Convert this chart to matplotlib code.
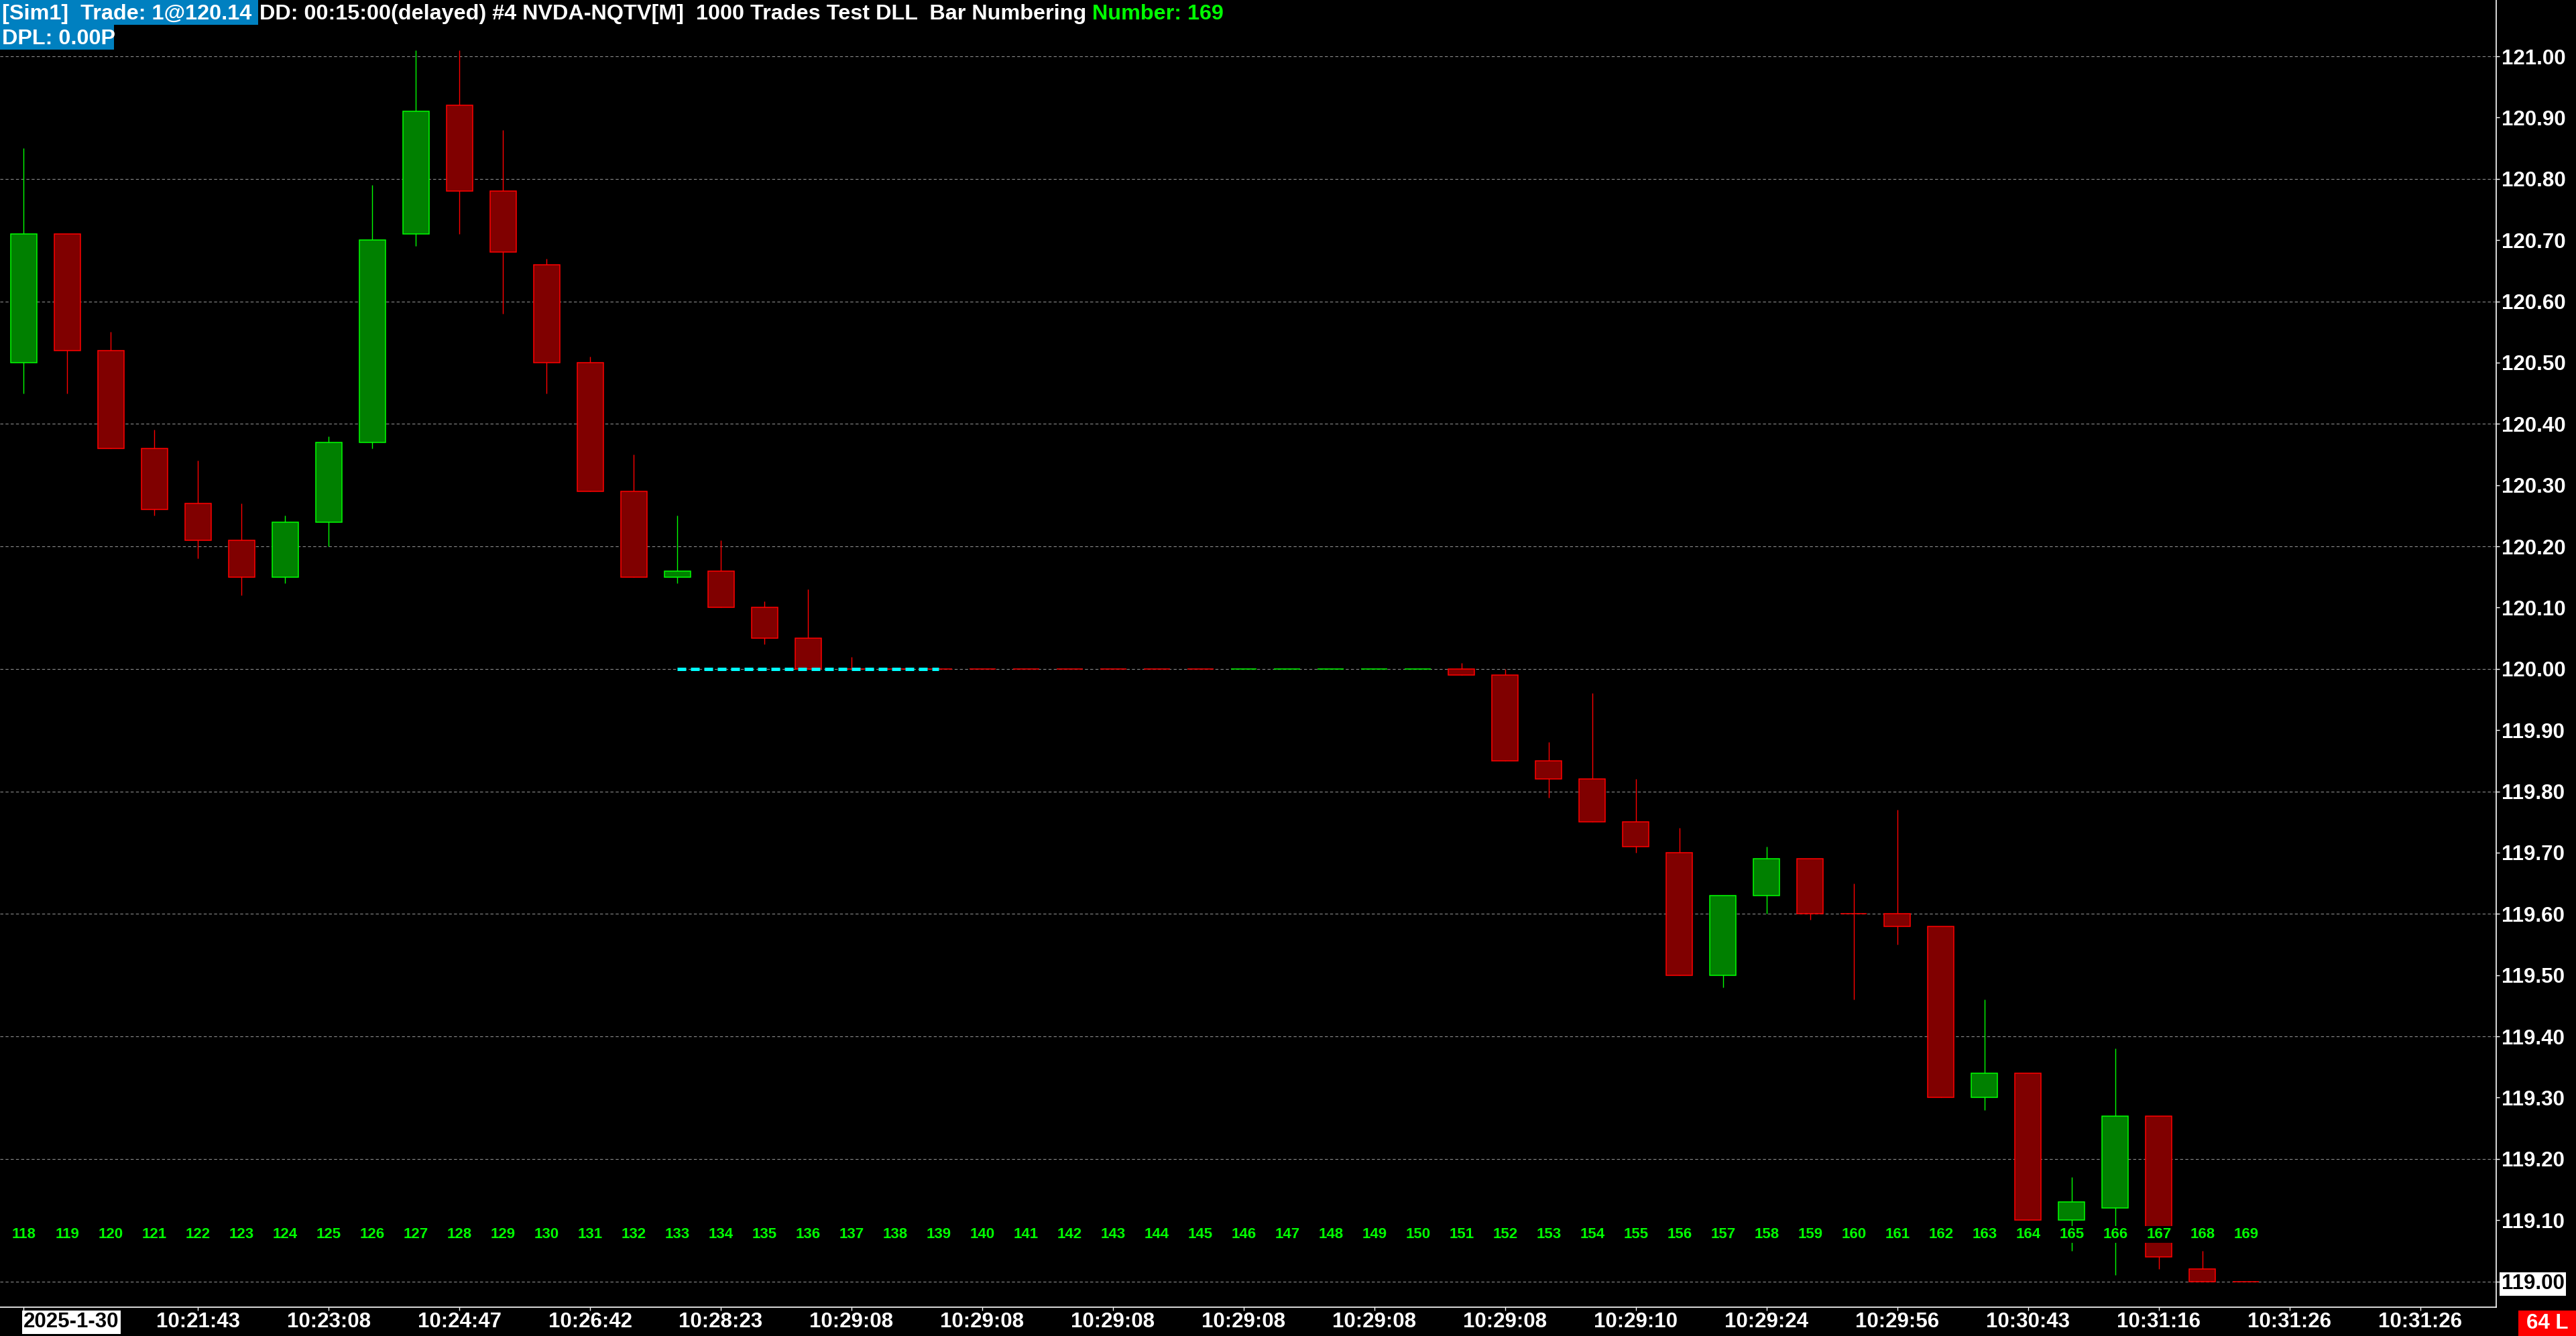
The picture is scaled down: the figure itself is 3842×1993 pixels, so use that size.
import matplotlib
matplotlib.use('Agg')
import matplotlib.pyplot as plt
from matplotlib.patches import Rectangle

plt.rcParams['font.family'] = ['Liberation Sans', 'DejaVu Sans']
plt.rcParams['font.weight'] = 'bold'

W, H, DPI = 3842, 1993, 100

# bar data, bars 118..169, ten bars per row
opens = [120.50, 120.71, 120.52, 120.36, 120.27, 120.21, 120.15, 120.24, 120.37, 120.71,
         120.92, 120.78, 120.66, 120.50, 120.29, 120.15, 120.16, 120.10, 120.05, 120.00,
         120.00, 120.00, 120.00, 120.00, 120.00, 120.00, 120.00, 120.00, 120.00, 120.00,
         120.00, 120.00, 120.00, 120.00, 119.99, 119.85, 119.82, 119.75, 119.70, 119.50,
         119.63, 119.69, 119.60, 119.60, 119.58, 119.30, 119.34, 119.10, 119.12, 119.27,
         119.02, 119.00]
highs = [120.85, 120.71, 120.55, 120.39, 120.34, 120.27, 120.25, 120.38, 120.79, 121.01,
         121.01, 120.88, 120.67, 120.51, 120.35, 120.25, 120.21, 120.11, 120.13, 120.02,
         120.00, 120.00, 120.00, 120.00, 120.00, 120.00, 120.00, 120.00, 120.00, 120.00,
         120.00, 120.00, 120.00, 120.01, 120.00, 119.88, 119.96, 119.82, 119.74, 119.63,
         119.71, 119.69, 119.65, 119.77, 119.58, 119.46, 119.34, 119.17, 119.38, 119.27,
         119.05, 119.00]
lows = [120.45, 120.45, 120.36, 120.25, 120.18, 120.12, 120.14, 120.20, 120.36, 120.69,
        120.71, 120.58, 120.45, 120.29, 120.15, 120.14, 120.10, 120.04, 120.00, 120.00,
        120.00, 120.00, 120.00, 120.00, 120.00, 120.00, 120.00, 120.00, 120.00, 120.00,
        120.00, 120.00, 120.00, 119.99, 119.85, 119.79, 119.75, 119.70, 119.50, 119.48,
        119.60, 119.59, 119.46, 119.55, 119.30, 119.28, 119.10, 119.05, 119.01, 119.02,
        119.00, 119.00]
closes = [120.71, 120.52, 120.36, 120.26, 120.21, 120.15, 120.24, 120.37, 120.70, 120.91,
          120.78, 120.68, 120.50, 120.29, 120.15, 120.16, 120.10, 120.05, 120.00, 120.00,
          120.00, 120.00, 120.00, 120.00, 120.00, 120.00, 120.00, 120.00, 120.00, 120.00,
          120.00, 120.00, 120.00, 119.99, 119.85, 119.82, 119.75, 119.71, 119.50, 119.63,
          119.69, 119.60, 119.60, 119.58, 119.30, 119.34, 119.10, 119.13, 119.27, 119.04,
          119.00, 119.00]
doji_up = [146, 147, 148, 149, 150]
bar_num = list(range(118, 118 + len(opens)))

time_ticks = [118, 122, 125, 128, 131, 134, 137, 140, 143, 146, 149, 152,
              155, 158, 161, 164, 167, 170, 173]
time_labels = ['2025-1-30', '10:21:43', '10:23:08', '10:24:47', '10:26:42', '10:28:23',
               '10:29:08', '10:29:08', '10:29:08', '10:29:08', '10:29:08', '10:29:08',
               '10:29:10', '10:29:24', '10:29:56', '10:30:43', '10:31:16', '10:31:26',
               '10:31:26']

price_ticks = [119.0, 119.1, 119.2, 119.3, 119.4, 119.5, 119.6, 119.7, 119.8, 119.9,
               120.0, 120.1, 120.2, 120.3, 120.4, 120.5, 120.6, 120.7, 120.8, 120.9, 121.0]
grid_prices = [119.0, 119.2, 119.4, 119.6, 119.8, 120.0, 120.2, 120.4, 120.6, 120.8, 121.0]
last_price = 119.00

trade_level = 120.00
trade_from, trade_to = 133, 139

UP_BODY, UP_EDGE = '#008000', '#00ff00'
DN_BODY, DN_EDGE = '#800000', '#ff0000'


def fx(px):
    return px / W


def fy(py):
    return 1 - py / H


fig = plt.figure(figsize=(W / DPI, H / DPI), dpi=DPI, facecolor='black')
ax = fig.add_axes([0, fy(1950), fx(3723), 1950 / H], facecolor='black')

ax.set_xlim(117.46, 174.74)
ax.set_ylim(118.958, 121.092)

for g in grid_prices:
    ax.axhline(g, color='#8c8c8c', lw=0.8, linestyle=(0, (4, 3)), zorder=1)

# candles
for n, o, h, l, c in zip(bar_num, opens, highs, lows, closes):
    up = c > o or (c == o and n in doji_up)
    body, edge = (UP_BODY, UP_EDGE) if up else (DN_BODY, DN_EDGE)
    ax.vlines(n, l, h, colors=edge, lw=1.0, zorder=2)
    ax.bar(n, abs(c - o), bottom=min(o, c), width=0.6, color=body,
           edgecolor=edge, linewidth=1.1, zorder=3)

ax.hlines(trade_level, trade_from, trade_to, colors='#00ffff', lw=3.6,
          linestyles=(0, (2.6, 1.4)), zorder=4)

for n in bar_num:
    ax.text(n, 119.077, str(n), ha='center', va='center', color='#00ff00',
            fontsize=16, fontweight='bold', zorder=5,
            bbox=dict(boxstyle='square,pad=0.1', fc='black', ec='none'))

for side in ['top', 'left']:
    ax.spines[side].set_visible(False)
for side in ['right', 'bottom']:
    ax.spines[side].set_color('white')
    ax.spines[side].set_linewidth(1.2)

ax.set_xticks(time_ticks, time_labels)
ax.yaxis.tick_right()
ax.set_yticks(price_ticks, ['%.2f' % p for p in price_ticks])
ax.tick_params(axis='x', colors='white', length=3.6, width=1, pad=1.5, labelsize=22.5)
ax.tick_params(axis='y', colors='white', length=3.6, width=1, pad=2, labelsize=22.5)

first = ax.get_xticklabels()[0]
first.set_horizontalalignment('left')
first.set_color('black')
first.set_bbox(dict(boxstyle='square,pad=0.08', fc='white', ec='none'))

for p, lab in zip(price_ticks, ax.get_yticklabels()):
    if abs(p - last_price) < 1e-9:
        lab.set_color('black')
        lab.set_bbox(dict(boxstyle='square,pad=0.08', fc='white', ec='none'))

# header
blue = '#0080c0'
fig.patches.append(Rectangle((0, fy(37)), fx(385), 37 / H, transform=fig.transFigure,
                             fc=blue, ec='none', zorder=5))
fig.patches.append(Rectangle((0, fy(74)), fx(170), 37 / H, transform=fig.transFigure,
                             fc=blue, ec='none', zorder=5))
hdr = dict(fontsize=23.3, fontweight='bold', va='baseline', ha='left', zorder=6)
fig.text(fx(3), fy(29), '[Sim1]  Trade: 1@120.14', color='white', **hdr)
fig.text(fx(387), fy(29), 'DD: 00:15:00(delayed) #4 NVDA-NQTV[M]  1000 Trades Test DLL  Bar Numbering',
         color='white', **hdr)
fig.text(fx(1629), fy(29), 'Number: 169', color='#00ff00', **hdr)
fig.text(fx(3), fy(66), 'DPL: 0.00P', color='white', **hdr)

# bottom-right status box
fig.patches.append(Rectangle((fx(3756), 0), fx(86), 38 / H, transform=fig.transFigure,
                             fc='#ff0000', ec='none', zorder=5))
fig.text(fx(3799), fy(1974), '64 L', color='white', fontsize=22.5, fontweight='bold',
         ha='center', va='center', zorder=6)

fig.savefig('out.png', dpi=DPI, facecolor='black')
